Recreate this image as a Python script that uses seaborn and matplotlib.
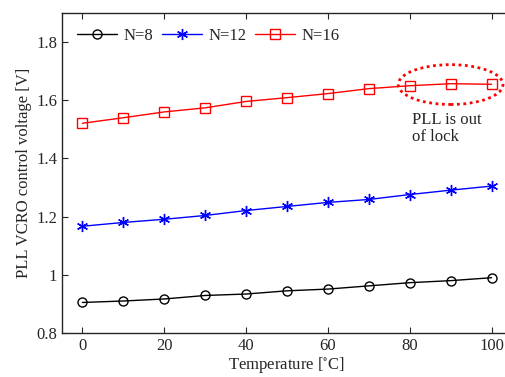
import numpy as np
import pandas as pd
import matplotlib
matplotlib.use("Agg")
import matplotlib.pyplot as plt
from matplotlib.patches import Ellipse
import seaborn as sns

temperature = [0, 10, 20, 30, 40, 50, 60, 70, 80, 90, 100]
n8 = [0.905, 0.910, 0.917, 0.929, 0.934, 0.945, 0.951, 0.962, 0.973, 0.980, 0.990]
n12 = [1.167, 1.180, 1.191, 1.204, 1.221, 1.235, 1.249, 1.259, 1.276, 1.291, 1.305]
n16 = [1.521, 1.540, 1.560, 1.574, 1.596, 1.609, 1.623, 1.640, 1.650, 1.657, 1.655]

series = {"N=8": n8, "N=12": n12, "N=16": n16}
colors = {"N=8": "black", "N=12": "blue", "N=16": "red"}
markers = {"N=8": "o", "N=12": (6, 2, 0), "N=16": "s"}
msizes = {"N=8": 6.5, "N=12": 8, "N=16": 6.5}

df = pd.concat([pd.DataFrame({"T": temperature, "V": v, "N": k}) for k, v in series.items()])

sns.set_style("ticks")
plt.rcParams["font.family"] = ["Liberation Serif", "DejaVu Serif"]
plt.rcParams["mathtext.fontset"] = "stix"

fig = plt.figure(figsize=(5.05, 3.77), dpi=100)
ax = fig.add_axes([0.1228, 0.1167, 0.891, 0.8488])

for name in series:
    d = df[df["N"] == name]
    sns.lineplot(data=d, x="T", y="V", ax=ax, color=colors[name], lw=1.0,
                 marker=markers[name], markersize=msizes[name],
                 markerfacecolor="none", markeredgecolor=colors[name],
                 markeredgewidth=1.0, label=name)

# out-of-lock region
ax.add_patch(Ellipse((90, 1.654), 25.6, 0.137, fill=False, edgecolor="red",
                     linestyle=(0, (1, 1.3)), lw=2.0))
ax.text(80.5, 1.56, "PLL is out\nof lock", fontsize=12, va="top", ha="left",
        linespacing=1.05)

ax.set_xlim(-5, 105)
ax.set_ylim(0.8, 1.9)
ax.set_xticks([0, 20, 40, 60, 80, 100])
ax.set_yticks([0.8, 1.0, 1.2, 1.4, 1.6, 1.8])
ax.set_yticklabels(["0.8", "1", "1.2", "1.4", "1.6", "1.8"])
ax.tick_params(direction="in", top=True, right=True, labelsize=12, length=4, width=0.8)
ax.set_xlabel(r"Temperature [$^{\circ}$C]", fontsize=12, labelpad=1)
ax.set_ylabel("PLL VCRO control voltage [V]", fontsize=12, labelpad=3)
for s in ax.spines.values():
    s.set_linewidth(1.0)

ax.legend(loc="upper left", ncol=3, frameon=False, fontsize=12, handlelength=2.4,
          columnspacing=0.5, handletextpad=0.4, borderaxespad=0.5)

fig.savefig("out.png", dpi=100)
